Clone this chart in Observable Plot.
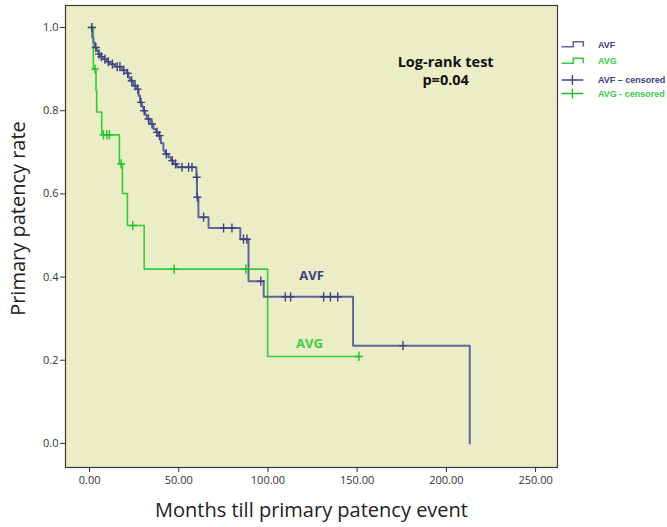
<!DOCTYPE html>
<html>
<head>
<meta charset="utf-8">
<script src="https://cdn.jsdelivr.net/npm/d3@7"></script>
<script src="https://cdn.jsdelivr.net/npm/@observablehq/plot@0.6"></script>
<style>
  html, body { margin: 0; padding: 0; background: #fff; }
  #wrap { position: relative; width: 667px; height: 527px; }
  #legend { position: absolute; left: 0; top: 0; pointer-events: none; }
</style>
</head>
<body>
<div id="wrap"></div>
<script>
// ---- Data ----
const avfTimes = [1.0, 1.5, 2.1, 3.0, 4.0, 4.9, 5.9, 7.7, 9.7, 11.5, 14.3, 18.1, 20.9, 21.8, 22.7, 24.6, 26.5, 27.5, 28.3, 29.3, 30.2, 31.1, 32.1, 34.0, 35.8, 37.2, 38.6, 40.0, 41.4, 42.4, 44.2, 45.6, 47.0, 48.9, 59.9, 60.2, 61.0, 66.7, 84.5, 89.1, 97.6, 147.7, 213.1];
const avfSurv  = [1, 0.976, 0.964, 0.952, 0.944, 0.936, 0.930, 0.924, 0.918, 0.912, 0.906, 0.897, 0.890, 0.880, 0.872, 0.860, 0.852, 0.836, 0.820, 0.810, 0.800, 0.790, 0.780, 0.768, 0.756, 0.748, 0.740, 0.722, 0.704, 0.696, 0.688, 0.680, 0.672, 0.664, 0.640, 0.592, 0.544, 0.518, 0.491, 0.390, 0.3525, 0.235, 0];
const avfCensored = [1.2, 3.5, 5.3, 6.6, 8.6, 10.5, 12.8, 15.5, 17.0, 19.2, 21.3, 23.6, 25.5, 27.0, 28.8, 30.6, 33.0, 35.0, 37.8, 39.2, 43.0, 46.3, 48.2, 51.8, 55.5, 57.4, 60.05, 60.4, 63.9, 75.1, 79.8, 86.3, 88.2, 96.0, 109.7, 112.7, 131.2, 135.0, 139.1, 175.7];

const avgTimes = [1.0, 2.1, 3.6, 4.0, 6.8, 16.7, 18.4, 21.2, 30.6, 99.8, 151];
const avgSurv  = [1, 0.90, 0.848, 0.797, 0.742, 0.672, 0.601, 0.524, 0.419, 0.209, 0.209];
const avgCensored = [1.2, 3.1, 7.8, 9.7, 11.1, 17.7, 24.2, 47.4, 87.6, 151];

const xTicks = [0, 50, 100, 150, 200, 250];
const yTicks = [0, 0.2, 0.4, 0.6, 0.8, 1.0];
const groups = ["AVF", "AVG"];
const legendLabels = ["AVF", "AVG", "AVF \u2013 censored", "AVG - censored"];
const annotationLines = ["Log-rank test", "p=0.04"];
const xLabel = "Months till primary patency event";
const yLabel = "Primary patency rate";

// ---- Styles ----
const colAVF = "#61669a", colAVFmark = "#3d4383", colAVFtext = "#3b4181";
const colAVG = "#35cc3e", colAVGmark = "#22c02a", colAVGtext = "#3ccc48";
const bg = "#ebedc6";

// ---- Build tables ----
const avfSteps = avfTimes.map((t, i) => ({t, s: avfSurv[i]}));
const avgSteps = avgTimes.map((t, i) => ({t, s: avgSurv[i]}));
function survAt(times, surv, t) {
  const i = Math.max(0, d3.bisectRight(times, t) - 1);
  return surv[i];
}
const avfCens = avfCensored.map(t => ({t, s: survAt(avfTimes, avfSurv, t)}));
const avgCens = avgCensored.map(t => ({t, s: survAt(avgTimes, avgSurv, t)}));

const plusSymbol = {
  draw(context, size) {
    const r = Math.sqrt(size / Math.PI);
    context.moveTo(0, -r * 1.15); context.lineTo(0, r * 1.15);
    context.moveTo(-r, 0); context.lineTo(r, 0);
  }
};

const chart = Plot.plot({
  width: 667,
  height: 527,
  marginLeft: 65,
  marginRight: 110,
  marginTop: 5,
  marginBottom: 60,
  style: {background: "white", fontFamily: "'Open Sans', 'Liberation Sans', sans-serif", fontSize: "11px", color: "#333"},
  x: {domain: [-13.5, 262.3], ticks: xTicks, tickFormat: d3.format(".2f"), tickSize: 5, tickPadding: 4, label: null},
  y: {domain: [-0.058, 1.053], ticks: yTicks, tickFormat: d3.format(".1f"), tickSize: 5, tickPadding: 2, label: null},
  marks: [
    Plot.frame({fill: bg}),
    Plot.line(avgSteps, {x: "t", y: "s", curve: "step-after", stroke: colAVG, strokeWidth: 1.6}),
    Plot.line(avfSteps, {x: "t", y: "s", curve: "step-after", stroke: colAVF, strokeWidth: 2}),
    Plot.dot(avgCens, {x: "t", y: "s", symbol: plusSymbol, r: 4, stroke: colAVGmark, fill: "none", strokeWidth: 1.4}),
    Plot.dot(avfCens, {x: "t", y: "s", symbol: plusSymbol, r: 4, stroke: colAVFmark, fill: "none", strokeWidth: 1.4}),
    Plot.text([annotationLines[0]], {x: 199.6, y: 0.917, fontSize: 14.5, fontWeight: "bold", fill: "#111"}),
    Plot.text([annotationLines[1]], {x: 199.6, y: 0.873, fontSize: 14.5, fontWeight: "bold", fill: "#111"}),
    Plot.text([groups[0]], {x: 124.4, y: 0.404, fontSize: 13, fontWeight: "bold", fill: colAVFtext}),
    Plot.text([groups[1]], {x: 123.3, y: 0.240, fontSize: 13, fontWeight: "bold", fill: colAVGtext}),
    Plot.text([xLabel], {frameAnchor: "bottom", dy: 49, fontSize: 20, fill: "#222"}),
    Plot.text([yLabel], {frameAnchor: "left", textAnchor: "middle", dx: -47, dy: -18, rotate: -90, fontSize: 20, fill: "#222"}),
    Plot.frame({stroke: "#3a3a30", strokeWidth: 1.2})
  ]
});
document.getElementById("wrap").appendChild(chart);

// ---- Legend (right of frame) ----
const leg = d3.select("#wrap").append("svg").attr("id", "legend")
  .attr("width", 667).attr("height", 527);
const legItems = [
  {label: legendLabels[0], kind: "line", stroke: colAVF, text: colAVFtext, y: 46.7},
  {label: legendLabels[1], kind: "line", stroke: colAVG, text: colAVGtext, y: 63.3},
  {label: legendLabels[2], kind: "cens", stroke: colAVFmark, text: colAVFtext, y: 80},
  {label: legendLabels[3], kind: "cens", stroke: colAVGmark, text: colAVGtext, y: 93.5}
];
legItems.forEach(it => {
  const g = leg.append("g");
  if (it.kind === "line") {
    g.append("path")
      .attr("d", `M561.5,${it.y}H573.3V${it.y - 5}H583.3V${it.y}`)
      .attr("fill", "none").attr("stroke", it.stroke).attr("stroke-width", 1.6);
    g.append("text").attr("x", 598).attr("y", it.y - 2)
      .attr("dy", "0.35em")
      .attr("font-family", "'Liberation Sans', Arial, sans-serif")
      .attr("font-size", 9).attr("font-weight", "bold").attr("fill", it.text).text(it.label);
  } else {
    g.append("path")
      .attr("d", `M561.5,${it.y}H583.3M572.4,${it.y - 5}V${it.y + 5}`)
      .attr("fill", "none").attr("stroke", it.stroke).attr("stroke-width", 1.4);
    g.append("text").attr("x", 598).attr("y", it.y)
      .attr("dy", "0.35em")
      .attr("font-family", "'Liberation Sans', Arial, sans-serif")
      .attr("font-size", 9).attr("font-weight", "bold").attr("fill", it.text).text(it.label);
  }
});
</script>
</body>
</html>
